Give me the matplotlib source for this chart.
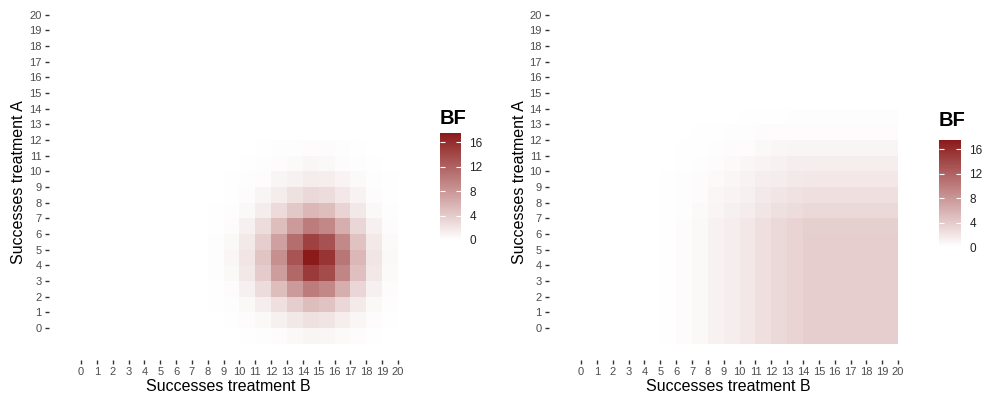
import numpy as np
import matplotlib
matplotlib.use("Agg")
import matplotlib.pyplot as plt
from matplotlib.colors import LinearSegmentedColormap, Normalize

plt.rcParams['font.family'] = ['Liberation Sans', 'DejaVu Sans']

# tile cells are indexed by their lower-left corner (-1..19)
ticks = list(range(0, 21))

# left panel: rows A = -1..11, columns B = 8..19
left_rows = list(range(-1, 12))
left_cols = list(range(8, 20))
left_bf = [
    [0.0, 0.0, 0.1, 0.2, 0.4, 0.6, 0.8, 0.7, 0.5, 0.3, 0.1, 0.0],
    [0.0, 0.1, 0.3, 0.6, 1.2, 1.8, 2.3, 2.1, 1.4, 0.7, 0.3, 0.1],
    [0.1, 0.2, 0.6, 1.3, 2.5, 3.8, 5.0, 4.6, 3.1, 1.6, 0.6, 0.2],
    [0.1, 0.4, 1.2, 2.7, 5.0, 7.7, 10.0, 9.1, 6.2, 3.2, 1.2, 0.4],
    [0.2, 0.6, 1.8, 4.0, 7.5, 11.5, 15.0, 13.7, 9.3, 4.9, 1.8, 0.5],
    [0.2, 0.7, 2.0, 4.5, 8.5, 13.0, 17.5, 15.5, 10.5, 5.5, 2.0, 0.6],
    [0.2, 0.6, 1.7, 3.8, 7.3, 11.1, 14.5, 13.2, 9.0, 4.7, 1.7, 0.5],
    [0.1, 0.4, 1.2, 2.7, 5.0, 7.7, 10.0, 9.1, 6.2, 3.2, 1.2, 0.4],
    [0.1, 0.2, 0.6, 1.5, 2.8, 4.2, 5.5, 5.0, 3.4, 1.8, 0.6, 0.2],
    [0.0, 0.1, 0.4, 0.8, 1.5, 2.3, 3.0, 2.7, 1.9, 1.0, 0.4, 0.1],
    [0.0, 0.1, 0.2, 0.4, 0.8, 1.1, 1.5, 1.4, 0.9, 0.5, 0.2, 0.1],
    [0.0, 0.0, 0.1, 0.2, 0.4, 0.5, 0.7, 0.6, 0.4, 0.2, 0.1, 0.0],
    [0.0, 0.0, 0.0, 0.1, 0.2, 0.2, 0.3, 0.3, 0.2, 0.1, 0.0, 0.0],
]

# right panel: rows A = -1..14, columns B = 4..19
right_rows = list(range(-1, 15))
right_cols = list(range(4, 20))
right_bf = [
    [0.04, 0.1, 0.3, 0.6, 1.1, 1.4, 1.9, 2.5, 3.0, 3.4, 3.8, 3.8, 3.8, 3.8, 3.8, 3.8],
    [0.04, 0.1, 0.3, 0.6, 1.1, 1.4, 1.9, 2.5, 3.0, 3.4, 3.8, 3.8, 3.8, 3.8, 3.8, 3.8],
    [0.04, 0.1, 0.3, 0.6, 1.1, 1.4, 1.9, 2.5, 3.0, 3.4, 3.8, 3.8, 3.8, 3.8, 3.8, 3.8],
    [0.04, 0.1, 0.3, 0.6, 1.1, 1.4, 1.9, 2.5, 3.0, 3.4, 3.8, 3.8, 3.8, 3.8, 3.8, 3.8],
    [0.04, 0.1, 0.3, 0.6, 1.1, 1.4, 1.9, 2.5, 3.0, 3.4, 3.8, 3.8, 3.8, 3.8, 3.8, 3.8],
    [0.04, 0.1, 0.3, 0.6, 1.1, 1.4, 1.9, 2.5, 3.0, 3.4, 3.8, 3.8, 3.8, 3.8, 3.8, 3.8],
    [0.04, 0.1, 0.3, 0.6, 1.1, 1.4, 1.9, 2.5, 3.0, 3.4, 3.8, 3.8, 3.8, 3.8, 3.8, 3.8],
    [0.04, 0.1, 0.3, 0.6, 1.1, 1.4, 1.9, 2.5, 3.0, 3.4, 3.7, 3.7, 3.7, 3.7, 3.7, 3.7],
    [0.0, 0.1, 0.2, 0.5, 0.8, 1.2, 1.5, 2.0, 2.4, 2.7, 3.0, 3.0, 3.0, 3.0, 3.0, 3.0],
    [0.0, 0.1, 0.2, 0.4, 0.7, 0.9, 1.2, 1.7, 2.0, 2.2, 2.5, 2.5, 2.5, 2.5, 2.5, 2.5],
    [0.0, 0.1, 0.2, 0.3, 0.5, 0.7, 1.0, 1.3, 1.5, 1.7, 1.9, 1.9, 1.9, 1.9, 1.9, 1.9],
    [0.0, 0.0, 0.1, 0.2, 0.4, 0.5, 0.7, 0.9, 1.1, 1.3, 1.4, 1.4, 1.4, 1.4, 1.4, 1.4],
    [0.0, 0.0, 0.1, 0.1, 0.2, 0.3, 0.4, 0.6, 0.7, 0.8, 0.8, 0.8, 0.8, 0.8, 0.8, 0.8],
    [0.0, 0.0, 0.0, 0.1, 0.1, 0.2, 0.2, 0.3, 0.3, 0.4, 0.4, 0.4, 0.4, 0.4, 0.4, 0.4],
    [0.0, 0.0, 0.0, 0.0, 0.05, 0.05, 0.08, 0.1, 0.12, 0.14, 0.15, 0.15, 0.15, 0.15, 0.15, 0.15],
    [0.0, 0.0, 0.0, 0.0, 0.0, 0.02, 0.03, 0.04, 0.05, 0.05, 0.06, 0.06, 0.06, 0.06, 0.06, 0.06],
]

bf_ticks = [0, 4, 8, 12, 16]


def full_grid(rows, cols, vals):
    grid = np.zeros((21, 21))
    for i, r in enumerate(rows):
        for j, c in enumerate(cols):
            grid[r + 1, c + 1] = vals[i][j]
    return grid


edges = np.arange(-1, 21)
cmap = LinearSegmentedColormap.from_list("bf", ["#FFFFFF", "#8B1A1A"])
vmax = max(np.max(left_bf), np.max(right_bf))
norm = Normalize(vmin=0, vmax=vmax)

fig = plt.figure(figsize=(9.85, 4.0), dpi=100)

panels = [
    (left_rows, left_cols, left_bf, [0.0497, 0.10, 0.364, 0.887],
     [0.4467, 0.40, 0.0213, 0.2675], 0.705),
    (right_rows, right_cols, right_bf, [0.5574, 0.10, 0.364, 0.887],
     [0.9533, 0.3825, 0.0223, 0.2675], 0.70),
]

for rows, cols, vals, pos, cpos, ty in panels:
    ax = fig.add_axes(pos)
    grid = full_grid(rows, cols, vals)
    mesh = ax.pcolormesh(edges, edges, grid, cmap=cmap, norm=norm,
                         shading="flat", linewidth=0, antialiased=False)
    ax.set_xlim(-2.02, 20.6)
    ax.set_ylim(-2.04, 20.6)
    ax.set_xticks(ticks)
    ax.set_yticks(ticks)
    ax.tick_params(axis="both", length=3.2, width=1.0, color="#333333",
                   labelsize=8, labelcolor="#4D4D4D", pad=2)
    for s in ax.spines.values():
        s.set_visible(False)
    ax.set_xlabel("Successes treatment B", fontsize=11.5, labelpad=1)
    ax.set_ylabel("Successes treatment A", fontsize=11.5, labelpad=2)

    cax = fig.add_axes(cpos)
    cb = fig.colorbar(mesh, cax=cax, ticks=bf_ticks)
    cb.outline.set_visible(False)
    cax.tick_params(which="both", left=True, right=True, direction="in",
                    length=3.5, width=0.8, color="white",
                    labelsize=8.5, labelcolor="#222222", pad=6)
    fig.text(cpos[0], ty, "BF", fontsize=14.5, fontweight="bold",
             ha="left", va="center")

fig.savefig("out.png", dpi=100, facecolor="white")
